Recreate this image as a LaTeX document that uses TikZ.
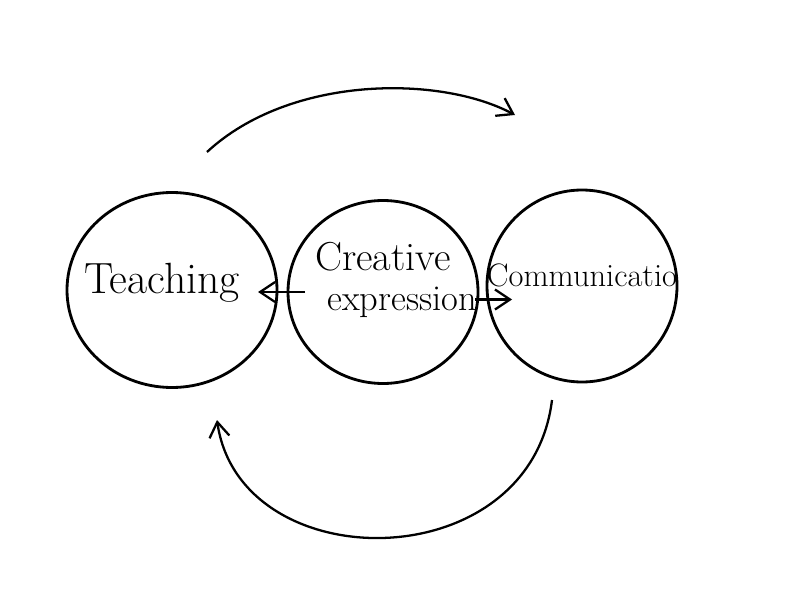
\documentclass[tikz,border=0pt]{standalone}
\usepackage{amsmath,amssymb}
\usepackage{xcolor}
\usetikzlibrary{shapes.geometric,arrows.meta}

\tikzset{
  bubble/.style={ellipse, draw, line width=1.6pt, inner sep=0pt, outer sep=0pt},
  label/.style={font=\huge},
  arr/.style={->, >={Straight Barb[length=3mm,width=4mm]}, line width=1.3pt}
}

\begin{document}
\begin{tikzpicture}
    \useasboundingbox (0,0) rectangle (16,12);

    % Circles
    \node[bubble, minimum width=4.2cm, minimum height=3.9cm] (teach) at (3.44,6.2) {};
    \node[bubble, minimum width=3.8cm, minimum height=3.66cm] (crea) at (7.66,6.16) {};
    \node[bubble, minimum width=3.8cm, minimum height=3.84cm] (comm) at (11.64,6.28) {};

    % Labels
    \node[font=\Huge] (teachtxt) at (3.24,6.34) {Teaching};
    \node[font=\fontsize{23}{24}\selectfont, inner sep=1pt] (creatxt) at (7.66,6.86) {Creative};
    \node[label, inner sep=1pt] (exprtxt) at (8.04,5.96) {expression};
    \node[font=\fontsize{18.5}{20}\selectfont] (commtxt) at (11.64,6.5) {Communicatio};

    % Links between circles
    \draw[arr, shorten <=-0.34cm, shorten >=-0.38cm] (crea.west) -- (crea.west -| teach.east);
    \draw[arr, shorten <=-0.06cm, shorten >=-0.5cm] ([yshift=-0.15cm]crea.east) -- ([yshift=-0.15cm]crea.east -| comm.west);

    % Cycle arcs
    \coordinate (topA) at (4.14,8.96);
    \coordinate (topB) at (10.3,9.7);
    \draw[arr] (topA) .. controls (5.8,10.5) and (8.8,10.5) .. (topB);

    \coordinate (botA) at (11.04,4.0);
    \coordinate (botB) at (4.34,3.6);
    \draw[arr] (botA) .. controls (10.6,0.4) and (4.8,0.4) .. (botB);
\end{tikzpicture}
\end{document}
